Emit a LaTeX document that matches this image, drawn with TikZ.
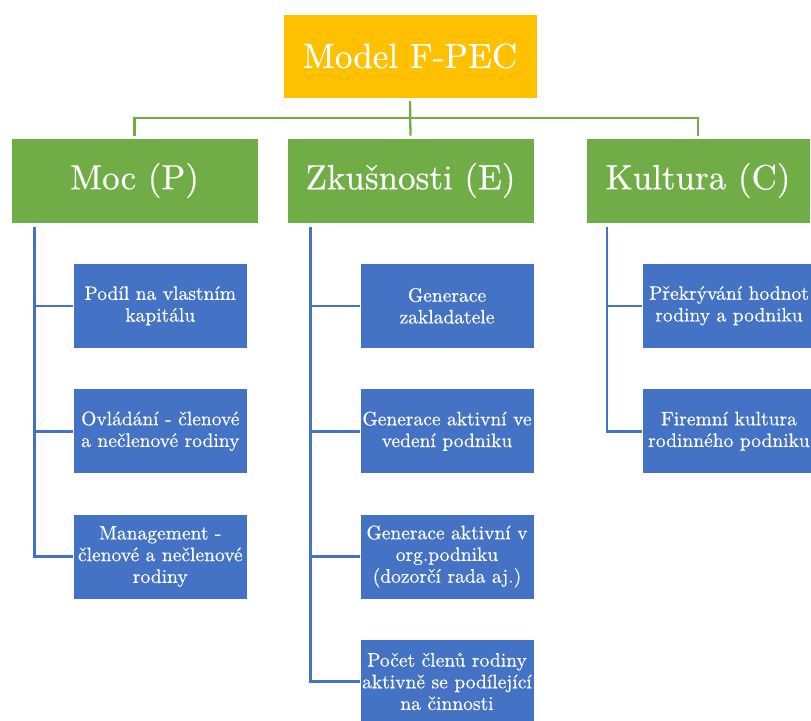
\documentclass[tikz,border=0pt]{standalone}
\usepackage{fontspec}
\newfontfamily\lmten{lmroman10-regular}[Extension=.otf, FakeBold=0.5]
\definecolor{gold}{HTML}{FFC000}
\definecolor{leaf}{HTML}{70AD47}
\definecolor{ocean}{HTML}{4472C4}
\begin{document}
\begin{tikzpicture}[x=1pt,y=-1pt,
  topbox/.style={fill=gold, draw=white, line width=0.8pt, minimum width=254pt, minimum height=84pt, inner sep=0pt, text=white, font=\lmten\fontsize{35}{40}\selectfont},
  catbox/.style={fill=leaf, draw=white, line width=0.8pt, minimum width=247pt, minimum height=85pt, inner sep=0pt, text=white, font=\lmten\fontsize{35}{40}\selectfont},
  itembox/.style={fill=ocean, draw=white, line width=0.6pt, minimum width=174pt, minimum height=85pt, inner sep=0pt, align=center, text=white, font=\lmten\fontsize{19.5}{21.7}\selectfont},
  gline/.style={draw=leaf, line width=2.3pt},
  bline/.style={draw=ocean, line width=2.6pt}]
\useasboundingbox (0,0) rectangle (811,720);
\begin{scope}
\clip (0,0) rectangle (811,720);
% top
\node[topbox] (top) at (410,56) {Model F-PEC};
% categories
\node[catbox] (moc) at (134.5,180.5) {Moc (P)};
\node[catbox] (zk) at (410.5,180.5) {Zkušnosti (E)};
\node[catbox, minimum width=224pt] (kul) at (698,180.5) {Kultura (C)};
% items Moc
\node[itembox] (m1) at (160.3,305.8) {Podíl na vlastním\\kapitálu};
\node[itembox] (m2) at (160.3,431.2) {Ovládání - členové\\a nečlenové rodiny};
\node[itembox] (m3) at (160.3,556.5) {Management -\\členové a nečlenové\\rodiny};
% items Zkusenosti
\node[itembox] (z1) at (447,305.8) {Generace\\zakladatele};
\node[itembox] (z2) at (447,431.2) {Generace aktivní ve\\vedení podniku};
\node[itembox] (z3) at (447,556.5) {Generace aktivní v\\org.podniku\\(dozorčí rada aj.)};
\node[itembox] (z4) at (447,681.5) {Počet členů rodiny\\aktivně se podílející\\na činnosti};
% items Kultura
\node[itembox] (k1) at (729,305.8) {Překrývání hodnot\\rodiny a podniku};
\node[itembox] (k2) at (729,431.2) {Firemní kultura\\rodinného podniku};
% green connectors
\coordinate (gtop) at ([yshift=-3pt]top.south);
\coordinate (bus) at (410,118);
\draw[gline] (gtop) -- (gtop |- bus) -| ([yshift=2pt]moc.north);
\draw[gline] (gtop |- bus) -| ([yshift=2pt]kul.north);
\draw[gline] (gtop) -- ([yshift=2pt]zk.north);
% blue connectors
\coordinate (mt) at (34.3,227);
\coordinate (zt) at (310.7,227);
\coordinate (kt) at (606.8,227);
\draw[bline] (mt) |- (m1.west);
\draw[bline] (mt) |- (m2.west);
\draw[bline] (mt) |- (m3.west);
\draw[bline] (zt) |- (z1.west);
\draw[bline] (zt) |- (z2.west);
\draw[bline] (zt) |- (z3.west);
\draw[bline] (zt) |- (z4.west);
\draw[bline] (kt) |- (k1.west);
\draw[bline] (kt) |- (k2.west);
\end{scope}
\end{tikzpicture}
\end{document}
